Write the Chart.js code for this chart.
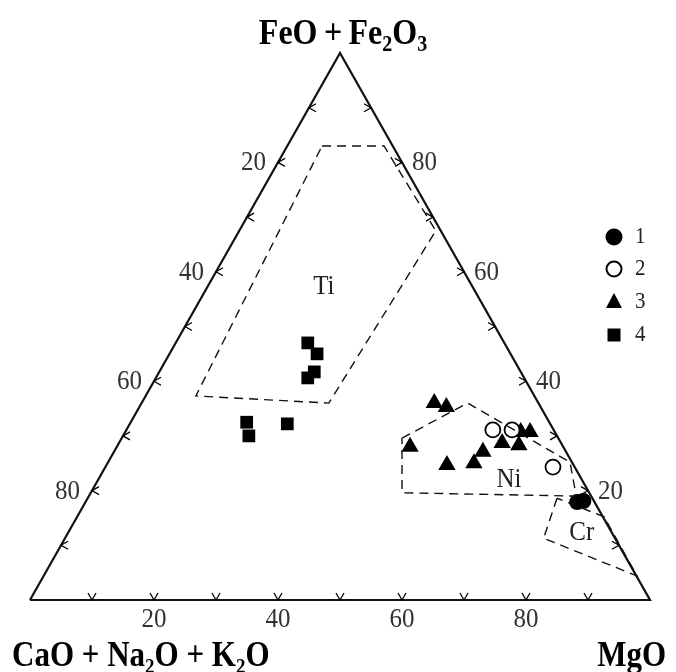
<!DOCTYPE html>
<html>
<head>
<meta charset="utf-8">
<script src="https://cdn.jsdelivr.net/npm/chart.js@4.4.0/dist/chart.umd.min.js"></script>
<style>
  html, body { margin: 0; padding: 0; background: #fff; }
  #wrap { width: 676px; height: 672px; }
</style>
</head>
<body>
<div id="wrap"><canvas id="chart" width="676" height="672"></canvas></div>
<script>
// values in percent: MgO and FeO+Fe2O3, CaO+Na2O+K2O is what is left
const groupLabels = ["1", "2", "3", "4"];
const mgo1 = [79.3, 80.2];
const fe1 = [17.9, 18.1];
const mgo2 = [59.1, 62.2, 72.2];
const fe2 = [31.1, 31.1, 24.3];
const mgo3 = [47.2, 49.5, 47.3, 54.9, 59.1, 59.5, 61.8, 64.7, 63.8, 65.3];
const fe3 = [36.0, 35.3, 28.0, 24.7, 25.0, 27.1, 28.7, 28.3, 30.7, 30.7];
const mgo4 = [21.3, 23.8, 25.0, 24.5, 18.7, 20.3, 25.4];
const fe4 = [47.0, 45.0, 41.7, 40.6, 32.5, 30.0, 32.2];

// field outlines
const regionNames = ["Ti", "Ni", "Cr"];
const tiMgo = [5.6, 15.6, 31.7, 30.2, 8.1];
const tiFe = [83.0, 83.0, 67.5, 36.0, 37.3];
const niMgo = [45.2, 52.6, 74.5, 78.6, 50.2];
const niFe = [29.6, 36.0, 25.2, 19.0, 19.6];
const crMgo = [75.7, 77.2, 95.7, 85.0];
const crFe = [18.6, 11.3, 4.4, 15.2];
// where the field names sit (MgO, FeO)
const regionLabelMgo = [18.8, 66.3, 82.9];
const regionLabelFe = [57.2, 21.9, 12.2];

const tickSteps = [10, 20, 30, 40, 50, 60, 70, 80, 90];
const tickLabels = [20, 40, 60, 80];

const toXY = (mgo, fe) => ({ x: mgo + fe / 2, y: fe });
const pts = (m, f) => m.map((v, i) => toXY(v, f[i]));
const ring = (m, f) => { const p = pts(m, f); p.push(p[0]); return p; };

const SERIF = '"Liberation Serif", "Times New Roman", serif';

// the scan's lettering is a bit taller than it is wide
function tallText(ctx, text, x, y, sy) {
  ctx.save();
  ctx.translate(x, y);
  ctx.scale(1, sy);
  ctx.fillText(text, 0, 0);
  ctx.restore();
}

function drawFormula(ctx, parts, x, y, align, size, sy) {
  const big = `bold ${size}px ${SERIF}`;
  const small = `bold ${Math.round(size * 0.62)}px ${SERIF}`;
  const widths = parts.map(p => {
    ctx.font = p.sub ? small : big;
    return ctx.measureText(p.t).width;
  });
  const total = widths.reduce((a, b) => a + b, 0);
  let cx = align === "center" ? x - total / 2 : align === "right" ? x - total : x;
  ctx.textAlign = "left";
  ctx.textBaseline = "alphabetic";
  parts.forEach((p, i) => {
    ctx.font = p.sub ? small : big;
    tallText(ctx, p.t, cx, p.sub ? y + size * 0.22 : y, sy);
    cx += widths[i];
  });
}

const ternaryDecor = {
  id: "ternaryDecor",
  afterDatasetsDraw(chart) {
    const { ctx, scales: { x, y } } = chart;
    const px = (m, f) => {
      const p = toXY(m, f);
      return [x.getPixelForValue(p.x), y.getPixelForValue(p.y)];
    };
    ctx.save();

    // little arrow ticks on the three sides
    ctx.strokeStyle = "#000";
    ctx.lineWidth = 1.3;
    const chevron = ([vx, vy], dx, dy) => {
      ctx.beginPath();
      if (dy) {
        ctx.moveTo(vx - 4, vy + dy * 7); ctx.lineTo(vx, vy); ctx.lineTo(vx + 4, vy + dy * 7);
      } else {
        ctx.moveTo(vx + dx * 7, vy - 4); ctx.lineTo(vx, vy); ctx.lineTo(vx + dx * 7, vy + 4);
      }
      ctx.stroke();
    };
    tickSteps.forEach(v => {
      chevron(px(v, 0), 0, -1);
      chevron(px(0, 100 - v), 1, 0);
      chevron(px(100 - v, v), -1, 0);
    });

    // tick numbers
    ctx.fillStyle = "#333";
    ctx.font = `25px ${SERIF}`;
    ctx.textBaseline = "middle";
    tickLabels.forEach(v => {
      let [bx, by] = px(v, 0);
      ctx.textAlign = "center";
      tallText(ctx, String(v), bx, by + 20, 1.08);
      let [lx, ly] = px(0, 100 - v);
      ctx.textAlign = "right";
      tallText(ctx, String(v), lx - 12, ly + 1, 1.08);
      let [rx, ry] = px(100 - v, v);
      ctx.textAlign = "left";
      tallText(ctx, String(v), rx + 10, ry + 1, 1.08);
    });

    // field names
    ctx.fillStyle = "#222";
    ctx.textAlign = "center";
    regionNames.forEach((n, i) => {
      const [tx, ty] = px(regionLabelMgo[i], regionLabelFe[i]);
      tallText(ctx, n, tx, ty, 1.08);
    });

    // corner titles
    ctx.fillStyle = "#000";
    const [ax, ay] = px(0, 100);
    drawFormula(ctx, [{ t: "FeO\u2009+\u2009Fe" }, { t: "2", sub: 1 }, { t: "O" }, { t: "3", sub: 1 }], ax + 3, ay - 9, "center", 32, 1.12);
    const [lx0, ly0] = px(0, 0);
    drawFormula(ctx, [{ t: "CaO + Na" }, { t: "2", sub: 1 }, { t: "O + K" }, { t: "2", sub: 1 }, { t: "O" }], lx0 - 18, ly0 + 66, "left", 31, 1.15);
    const [rx0, ry0] = px(100, 0);
    drawFormula(ctx, [{ t: "MgO" }], rx0 + 16, ry0 + 66, "right", 31, 1.15);

    // legend
    const lgX = 614, lgY = [237, 269, 302, 335];
    ctx.lineWidth = 2;
    ctx.strokeStyle = "#000";
    chart.data.datasets.filter(d => d.group).forEach((d, i) => {
      const cy = lgY[i];
      ctx.beginPath();
      if (d.pointStyle === "circle") ctx.arc(lgX, cy, 7.5, 0, Math.PI * 2);
      else if (d.pointStyle === "triangle") { ctx.moveTo(lgX, cy - 9); ctx.lineTo(lgX + 8, cy + 6); ctx.lineTo(lgX - 8, cy + 6); ctx.closePath(); }
      else ctx.rect(lgX - 6.5, cy - 6.5, 13, 13);
      ctx.fillStyle = d.pointBackgroundColor;
      ctx.fill();
      if (d.pointStyle === "circle") ctx.stroke();
      ctx.fillStyle = "#222";
      ctx.font = `21px ${SERIF}`;
      ctx.textAlign = "left";
      ctx.textBaseline = "middle";
      tallText(ctx, d.group, lgX + 21, cy, 1.08);
    });
    ctx.restore();
  }
};

const lineSet = (data, dash, width) => ({
  data, showLine: true, borderColor: "#111", borderWidth: width, borderDash: dash,
  pointRadius: 0, fill: false, tension: 0, clip: false
});
const markSet = (group, data, style, radius, fillColor) => ({
  group, data, showLine: false, pointStyle: style, pointRadius: radius,
  pointBackgroundColor: fillColor, pointBorderColor: "#000",
  pointBorderWidth: fillColor === "#fff" ? 1.8 : 0, clip: false
});

new Chart(document.getElementById("chart"), {
  type: "scatter",
  data: {
    datasets: [
      lineSet(ring([0, 100, 0], [0, 0, 100]), [], 2.2),
      lineSet(ring(tiMgo, tiFe), [9, 6], 1.4),
      lineSet(ring(niMgo, niFe), [9, 6], 1.4),
      lineSet(ring(crMgo, crFe), [9, 6], 1.4),
      markSet(groupLabels[0], pts(mgo1, fe1), "circle", 8, "#000"),
      markSet(groupLabels[1], pts(mgo2, fe2), "circle", 7.5, "#fff"),
      markSet(groupLabels[2], pts(mgo3, fe3), "triangle", 10, "#000"),
      markSet(groupLabels[3], pts(mgo4, fe4), "rect", 9, "#000")
    ]
  },
  options: {
    responsive: false,
    animation: false,
    devicePixelRatio: 1,
    layout: { padding: { left: 30, right: 26, top: 53, bottom: 72 } },
    scales: {
      x: { type: "linear", min: 0, max: 100, display: false },
      y: { type: "linear", min: 0, max: 100, display: false }
    },
    plugins: { legend: { display: false }, tooltip: { enabled: false } }
  },
  plugins: [ternaryDecor]
});
</script>
</body>
</html>
